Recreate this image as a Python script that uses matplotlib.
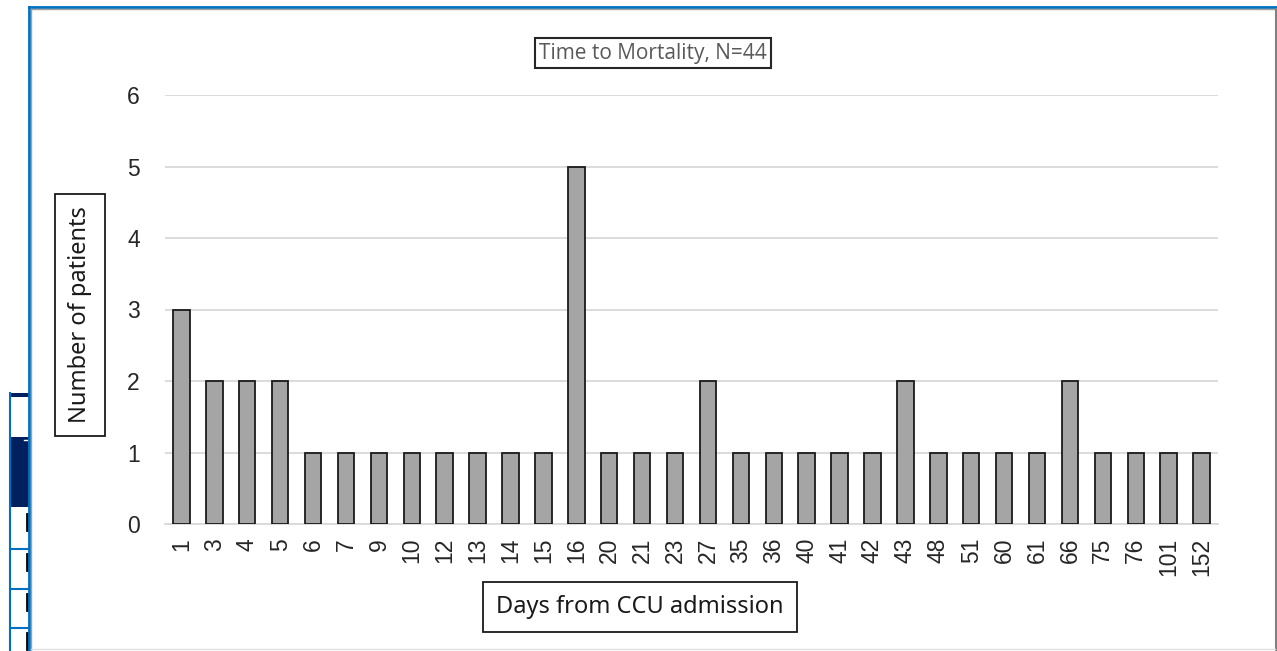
import matplotlib.pyplot as plt
from matplotlib.patches import Rectangle
from matplotlib.lines import Line2D
import numpy as np

# days from CCU admission and number of deaths on each day
days = ['1', '3', '4', '5', '6', '7', '9', '10', '12', '13', '14', '15', '16',
        '20', '21', '23', '27', '35', '36', '40', '41', '42', '43', '48', '51',
        '60', '61', '66', '75', '76', '101', '152']
patients = [3, 2, 2, 2, 1, 1, 1, 1, 1, 1, 1, 1, 5,
            1, 1, 1, 2, 1, 1, 1, 1, 1, 2, 1, 1,
            1, 1, 2, 1, 1, 1, 1]
yticks = [0, 1, 2, 3, 4, 5, 6]

W, H = 1277, 651
fig = plt.figure(figsize=(W / 100, H / 100), dpi=100)


def fx(x):
    return x / W


def fy(y):
    return 1 - y / H


# pieces of a table peeking out on the left
blue = '#0070c0'
navy = '#002060'
fig.add_artist(Line2D([fx(10), fx(10)], [fy(393), fy(651)], color=blue, lw=1.5))
fig.add_artist(Rectangle((fx(10), fy(397)), fx(19), 4 / H, color=navy, lw=0))
fig.add_artist(Rectangle((fx(11), fy(507)), fx(18), 70 / H, color=navy, lw=0))
for yy in [549, 589, 628]:
    fig.add_artist(Line2D([fx(10), fx(29)], [fy(yy), fy(yy)], color=blue, lw=1.5))
for yy in [410, 440]:
    fig.add_artist(Line2D([fx(24), fx(28)], [fy(yy), fy(yy)], color='white', lw=1))
for yy in [522, 562, 602, 641]:
    fig.add_artist(Line2D([fx(27), fx(27)], [fy(yy - 8), fy(yy + 8)], color='black', lw=2))

# chart frame
fig.add_artist(Line2D([fx(29), fx(29)], [fy(7), fy(651)], color=blue, lw=2))
fig.add_artist(Line2D([fx(29), fx(1277)], [fy(7), fy(7)], color=blue, lw=2))
fig.add_artist(Line2D([fx(31), fx(1275)], [fy(9), fy(9)], color='#a0a0a0', lw=1))
fig.add_artist(Line2D([fx(31), fx(31)], [fy(9), fy(651)], color='#a0a0a0', lw=1))
fig.add_artist(Line2D([fx(1275.5), fx(1275.5)], [fy(9), fy(651)], color='#808080', lw=1.5))
fig.add_artist(Line2D([fx(31), fx(1275)], [fy(649), fy(649)], color='#e0e0e0', lw=1))

ax = fig.add_axes([fx(165), fy(524), fx(1218 - 165), (524 - 95) / H])
x = np.arange(len(days))
ax.bar(x, patients, width=0.5, color='#a5a5a5', edgecolor='#1a1a1a', linewidth=1.3, zorder=3)
ax.set_xlim(-0.5, len(days) - 0.5)
ax.set_ylim(0, 6)
ax.set_yticks(yticks)
ax.set_yticklabels([str(v) for v in yticks], fontsize=16.5, color='#262626',
                   family='Liberation Sans')
ax.set_xticks(x)
ax.set_xticklabels(days, rotation=90, fontsize=16.5, color='#262626',
                   family='Liberation Sans')
ax.tick_params(length=0, pad=10)
ax.tick_params(axis='y', pad=18)
ax.grid(axis='y', color='#d9d9d9', lw=1.3, zorder=0)
for s in ['top', 'right', 'left']:
    ax.spines[s].set_visible(False)
ax.spines['bottom'].set_color('#d9d9d9')
ax.spines['bottom'].set_linewidth(1.3)

# title and axis labels in boxes
fig.text(fx(653), fy(53), 'Time to Mortality, N=44', ha='center', va='center',
         fontsize=15, color='#595959', family='Open Sans',
         bbox=dict(boxstyle='square,pad=0.2', fc='white', ec='#262626', lw=1.5))
fig.text(fx(80), fy(315), 'Number of patients', ha='center', va='center', rotation=90,
         fontsize=17, color='#1a1a1a', family='Noto Sans',
         bbox=dict(boxstyle='square,pad=0.55', fc='white', ec='#1a1a1a', lw=1.3))
fig.text(fx(640), fy(607), 'Days from CCU admission', ha='center', va='center',
         fontsize=17, color='#1a1a1a', family='Noto Sans',
         bbox=dict(boxstyle='square,pad=0.55', fc='white', ec='#1a1a1a', lw=1.3))

fig.savefig('out.png', dpi=100)
